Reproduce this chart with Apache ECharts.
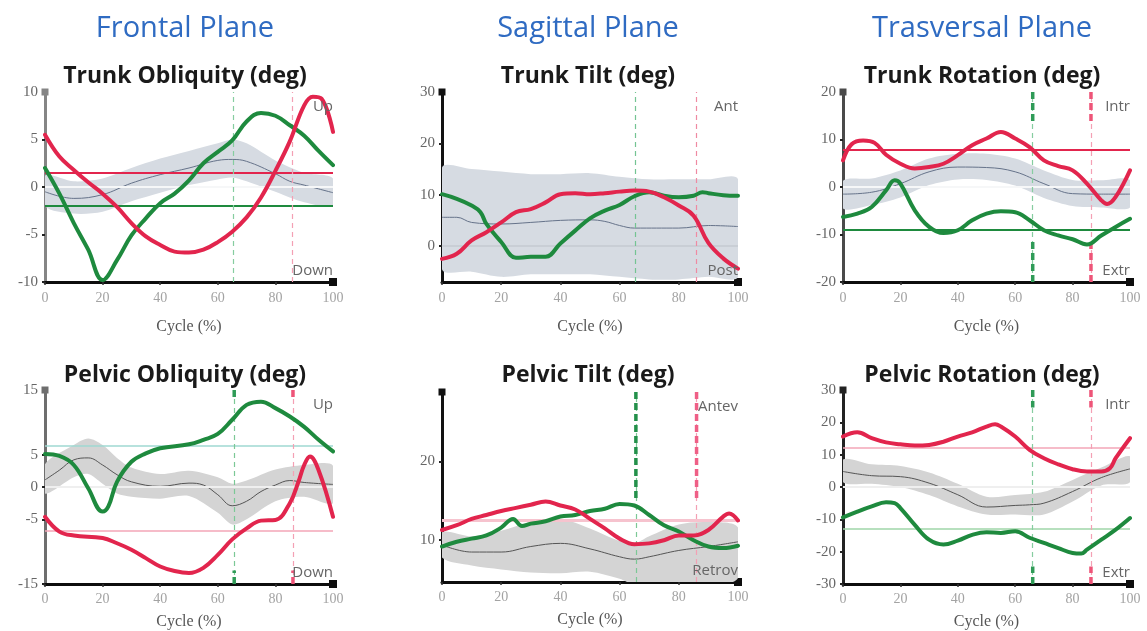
<!DOCTYPE html>
<html>
<head>
<meta charset="utf-8">
<script src="https://cdn.jsdelivr.net/npm/echarts@6/dist/echarts.min.js"></script>
<style>
  html, body { margin: 0; padding: 0; background: #fff; }
  #chart { width: 1147px; height: 631px; }
</style>
</head>
<body>
<div id="chart"></div>
<script>
// ---- Kinematics over the gait cycle (deg vs. % cycle) ----
// red = right side, green = left side, grey = normative mean with its band

const planeTitles = ['Frontal Plane', 'Sagittal Plane', 'Trasversal Plane'];
const panelTitles = ['Trunk Obliquity (deg)', 'Trunk Tilt (deg)', 'Trunk Rotation (deg)',
                     'Pelvic Obliquity (deg)', 'Pelvic Tilt (deg)', 'Pelvic Rotation (deg)'];
const directionTop = ['Up', 'Ant', 'Intr', 'Up', 'Antev', 'Intr'];
const directionBottom = ['Down', 'Post', 'Extr', 'Down', 'Retrov', 'Extr'];

// Trunk obliquity
const trunkObliquityRight = [[0,5.5],[5,3.2],[10,1.8],[15,0.5],[20,-0.7],[25,-2.1],[30,-3.8],[35,-5.2],[40,-6.1],[45,-6.8],[50,-6.9],[55,-6.6],[60,-5.8],[65,-4.7],[70,-3.2],[75,-1.1],[80,1.7],[85,4.8],[90,8.6],[93,9.5],[96,9.3],[100,5.8]];
const trunkObliquityLeft = [[0,2.0],[5,-0.7],[10,-3.8],[15,-6.6],[20,-9.8],[25,-7.7],[30,-5.1],[35,-3.3],[40,-1.7],[45,-0.7],[50,0.7],[55,2.5],[60,3.7],[65,4.9],[70,6.9],[75,7.8],[80,7.5],[85,6.5],[90,5.4],[95,3.8],[100,2.3]];
const trunkObliquityMean = [[0,-0.5],[10,-1.2],[20,-0.8],[30,0.4],[40,1.3],[50,2.0],[60,2.8],[65,2.9],[70,2.7],[80,1.4],[85,0.6],[90,0.2],[100,-0.6]];
const trunkObliquityUpper = [[0,1.2],[10,0.6],[20,0.9],[30,2.0],[40,3.0],[50,3.8],[60,4.6],[65,5.0],[70,4.6],[80,2.8],[90,1.5],[100,0.9]];
const trunkObliquityLower = [[0,-2.0],[10,-2.8],[20,-2.6],[30,-1.5],[40,-0.6],[50,0.2],[60,0.8],[65,1.0],[70,0.6],[80,-0.5],[90,-1.6],[100,-1.9]];

// Trunk tilt
const trunkTiltRight = [[0,-2.5],[5,-1.5],[10,1.1],[15,2.7],[20,4.6],[25,6.6],[30,7.2],[35,8.5],[40,10.1],[45,10.3],[50,10.1],[55,10.3],[60,10.6],[65,10.8],[70,10.6],[75,9.5],[80,7.9],[85,5.9],[90,0.6],[95,-2.4],[100,-4.4]];
const trunkTiltLeft = [[0,10.1],[5,9.2],[10,7.9],[13,6.6],[15,4.3],[20,0.8],[25,-2.3],[30,-2.1],[35,-2.1],[40,0.5],[45,3.0],[50,5.4],[55,6.9],[60,8.0],[65,9.7],[70,10.5],[75,9.8],[80,9.5],[85,9.8],[88,10.5],[90,10.3],[95,9.9],[100,9.8]];
const trunkTiltMean = [[0,5.6],[5,5.6],[10,4.6],[20,4.3],[30,4.6],[40,5.0],[50,5.1],[55,4.8],[60,4.0],[65,3.5],[80,3.5],[90,4.0],[100,3.8]];
const trunkTiltUpper = [[0,15.3],[10,15.0],[20,14.5],[30,14.0],[40,14.0],[50,14.2],[60,13.5],[70,13.0],[80,13.0],[90,13.0],[100,13.0]];
const trunkTiltLower = [[0,-4.5],[10,-5.0],[20,-6.0],[30,-5.5],[40,-5.5],[50,-5.5],[60,-6.0],[70,-6.5],[80,-6.5],[90,-6.0],[100,-6.0]];

// Trunk rotation
const trunkRotationRight = [[0,5.6],[3,9.0],[7,9.8],[11,9.3],[15,6.8],[20,4.9],[25,3.9],[30,4.2],[35,4.9],[40,6.7],[45,8.8],[50,10.2],[55,11.6],[60,10.2],[65,8.4],[70,5.6],[75,4.4],[80,3.5],[85,0.7],[90,-2.8],[92,-3.6],[95,-2.1],[100,3.5]];
const trunkRotationLeft = [[0,-6.3],[5,-5.6],[10,-4.2],[15,-0.7],[18,1.4],[20,0.7],[25,-4.9],[30,-8.4],[35,-9.7],[40,-9.1],[45,-7.0],[50,-5.6],[55,-5.1],[60,-5.3],[65,-7.0],[70,-9.1],[75,-10.2],[80,-11.0],[85,-12.1],[90,-10.2],[95,-8.4],[100,-6.7]];
const trunkRotationMean = [[0,-1.5],[10,-1.1],[20,0.7],[30,3.2],[40,4.2],[50,4.1],[60,3.2],[70,0.7],[80,-1.4],[90,-1.5],[100,-1.5]];
const trunkRotationUpper = [[0,1.3],[10,1.8],[20,3.5],[30,6.0],[40,7.0],[50,7.0],[60,6.0],[70,3.5],[80,1.5],[90,1.4],[100,1.5]];
const trunkRotationLower = [[0,-4.5],[10,-3.8],[20,-2.2],[30,0.4],[40,1.6],[50,1.5],[60,0.3],[70,-2.3],[80,-4.0],[90,-4.3],[100,-4.3]];

// Pelvic obliquity
const pelvicObliquityRight = [[0,-4.6],[5,-6.9],[10,-7.5],[20,-7.9],[25,-8.7],[30,-9.7],[35,-11.0],[40,-12.3],[45,-13.0],[50,-13.3],[55,-12.5],[60,-10.5],[65,-8.1],[70,-6.4],[75,-5.2],[80,-5.1],[85,-2.5],[88,0.8],[90,3.4],[92,4.7],[95,2.6],[100,-4.6]];
const pelvicObliquityLeft = [[0,5.1],[5,4.8],[10,3.4],[15,-0.2],[20,-3.8],[22,-3.0],[25,0.8],[30,3.9],[35,5.2],[40,6.0],[50,6.6],[55,7.3],[60,8.2],[65,10.4],[70,12.7],[75,13.2],[80,12.2],[85,10.9],[90,9.3],[95,7.3],[100,5.5]];
const pelvicObliquityMean = [[0,1.1],[5,2.6],[10,4.2],[15,4.5],[20,3.4],[25,1.9],[30,0.8],[40,0.1],[50,0.6],[55,0.3],[60,-1.2],[65,-2.9],[70,-2.2],[75,-0.7],[80,0.3],[85,1.0],[90,0.7],[100,0.4]];
const pelvicObliquityUpper = [[0,3.5],[10,6.5],[15,7.5],[20,6.5],[25,4.5],[30,3.0],[40,2.0],[50,2.5],[60,1.5],[65,0.5],[70,1.0],[80,2.7],[90,3.4],[100,3.3]];
const pelvicObliquityLower = [[0,-1.0],[10,1.5],[15,2.0],[20,0.5],[25,-1.0],[30,-1.5],[40,-1.8],[50,-1.4],[60,-4.0],[65,-5.8],[70,-5.0],[80,-2.2],[90,-1.5],[100,-2.5]];

// Pelvic tilt
const pelvicTiltRight = [[0,11.3],[5,11.9],[10,12.7],[15,13.2],[20,13.7],[25,14.1],[30,14.5],[35,14.9],[40,14.4],[45,13.9],[50,12.7],[55,11.5],[60,10.2],[65,9.5],[70,9.6],[75,10.0],[80,10.6],[85,10.6],[90,11.3],[95,13.0],[97,13.4],[100,12.5]];
const pelvicTiltLeft = [[0,9.2],[5,9.8],[10,10.2],[15,10.6],[20,11.6],[24,12.7],[27,11.8],[30,12.1],[35,12.4],[40,13.0],[45,13.2],[50,13.7],[55,14.0],[60,14.6],[65,14.4],[70,13.2],[75,11.9],[80,11.1],[85,10.0],[90,9.2],[95,9.0],[100,9.3]];
const pelvicTiltMean = [[0,9.4],[10,8.5],[20,8.5],[30,9.2],[40,9.6],[50,8.9],[60,7.9],[65,7.6],[70,7.9],[80,8.7],[90,9.2],[100,9.8]];
const pelvicTiltUpper = [[0,11.0],[10,10.5],[20,11.2],[30,12.3],[40,12.7],[50,11.5],[60,9.9],[65,9.6],[70,10.5],[80,12.0],[90,12.3],[100,11.6]];
const pelvicTiltLower = [[0,7.8],[10,6.8],[20,6.3],[30,5.9],[40,5.8],[50,6.0],[60,5.1],[65,4.3],[70,4.0],[80,4.0],[90,4.2],[100,5.2]];

// Pelvic rotation
const pelvicRotationRight = [[0,15.6],[5,16.9],[10,15.1],[15,13.8],[20,13.2],[25,12.8],[30,13.0],[35,14.0],[40,15.6],[45,16.9],[50,18.7],[53,19.4],[55,18.7],[60,15.6],[65,11.5],[70,8.9],[75,7.0],[80,5.5],[85,4.8],[90,4.8],[93,5.8],[95,8.9],[100,15.1]];
const pelvicRotationLeft = [[0,-9.4],[5,-7.6],[10,-6.0],[15,-4.7],[18,-5.0],[20,-6.5],[25,-11.7],[30,-16.3],[35,-17.8],[40,-16.6],[45,-14.8],[50,-14.0],[55,-14.2],[60,-13.7],[65,-15.7],[70,-17.3],[75,-18.9],[80,-20.4],[83,-20.6],[85,-19.4],[90,-16.3],[95,-13.2],[100,-9.6]];
const pelvicRotationMean = [[0,4.8],[10,3.5],[20,3.2],[30,1.2],[40,-2.4],[50,-6.2],[60,-5.7],[65,-5.5],[70,-5.0],[80,-1.4],[90,2.9],[100,5.6]];
const pelvicRotationUpper = [[0,8.5],[10,7.0],[20,6.5],[30,4.5],[40,1.0],[50,-3.0],[60,-2.5],[70,-1.5],[80,2.2],[90,6.0],[100,9.5]];
const pelvicRotationLower = [[0,1.5],[10,1.0],[20,0.0],[30,-2.5],[40,-6.0],[50,-8.5],[60,-8.5],[70,-8.5],[80,-4.5],[90,0.5],[100,1.5]];

// Reference levels (horizontal) and toe-off events (vertical), per panel
const referenceRight = [1.5, null, 7.9, -6.8, 12.5, 12.2];
const referenceLeft  = [-2.0, null, -9.1, 6.4, null, -12.9];
const toeOffLeft  = [65.3, 65.2, 66.1, 65.7, 65.5, 66.1];
const toeOffRight = [86.0, 86.0, 86.4, 86.1, 86.0, 86.4];

// Y-axis extents and labelled values
const yMin = [-10, -7, -20, -15, 4.7, -30];
const yMax = [10, 30, 20, 15, 28.8, 30];
const yLabels = [[-10,-5,0,5,10], [0,10,20,30], [-20,-10,0,10,20], [-15,-5,0,5,15], [10,20], [-30,-20,-10,0,10,20,30]];

const rightCurves = [trunkObliquityRight, trunkTiltRight, trunkRotationRight, pelvicObliquityRight, pelvicTiltRight, pelvicRotationRight];
const leftCurves  = [trunkObliquityLeft, trunkTiltLeft, trunkRotationLeft, pelvicObliquityLeft, pelvicTiltLeft, pelvicRotationLeft];
const normMeans   = [trunkObliquityMean, trunkTiltMean, trunkRotationMean, pelvicObliquityMean, pelvicTiltMean, pelvicRotationMean];
const normUppers  = [trunkObliquityUpper, trunkTiltUpper, trunkRotationUpper, pelvicObliquityUpper, pelvicTiltUpper, pelvicRotationUpper];
const normLowers  = [trunkObliquityLower, trunkTiltLower, trunkRotationLower, pelvicObliquityLower, pelvicTiltLower, pelvicRotationLower];

// ---- Layout & styling ----
const RED = '#e2254d', GREEN = '#1e8a3e';
const grids = [
  { left: 45,  top: 92,  width: 288, height: 190 },
  { left: 442, top: 92,  width: 296, height: 190 },
  { left: 843, top: 92,  width: 287, height: 190 },
  { left: 45,  top: 390, width: 288, height: 194 },
  { left: 442, top: 392, width: 296, height: 190 },
  { left: 843, top: 390, width: 287, height: 194 }
];
const panelStyle = [
  { band: '#d6dbe2', mean: '#66738a', zero: '#f6f7f8', zeroW: 2, yAxis: '#858585',
    refR: { color: RED, width: 2 }, refL: { color: GREEN, width: 2 },
    evL: '#86cda0', evR: '#f4a0b4', thick: null },
  { band: '#d6dbe2', mean: '#66738a', zero: '#c5cad1', zeroW: 1.5, yAxis: '#111',
    refR: null, refL: null, evL: '#74c493', evR: '#ef8aa2', thick: null },
  { band: '#d6dbe2', mean: '#66738a', zero: '#f6f7f8', zeroW: 2, yAxis: '#4a4a4a',
    refR: { color: RED, width: 2 }, refL: { color: GREEN, width: 2 },
    evL: '#86cda0', evR: '#f4a0b4', thick: { l: '#2f9b57', r: '#ee5478', top: 0.17, bottom: 0.22 } },
  { band: '#d4d4d4', mean: '#555', zero: '#efefef', zeroW: 2, yAxis: '#6e6e6e',
    refR: { color: '#f3a6b7', width: 1.5 }, refL: { color: '#9fd9d2', width: 1.5 },
    evL: '#7cc896', evR: '#f4a0b4', thick: { l: '#2f9b57', r: '#ee5478', top: 0.05, bottom: 0.07 } },
  { band: '#d4d4d4', mean: '#555', zero: null, zeroW: 0, yAxis: '#111',
    refR: { color: '#f6c3ce', width: 3 }, refL: null,
    evL: '#7cc896', evR: '#f4a0b4', thick: { l: '#23904a', r: '#ef5f86', top: 0.56, bottom: 0 } },
  { band: '#d4d4d4', mean: '#555', zero: '#efefef', zeroW: 2, yAxis: '#222',
    refR: { color: '#f3a6b7', width: 1.5 }, refL: { color: '#9fd6a8', width: 1.5 },
    evL: '#86cda0', evR: '#f4a0b4', thick: { l: '#2f9b57', r: '#ee5478', top: 0.09, bottom: 0.09 } }
];

const SERIF = '"Liberation Serif", "DejaVu Serif", serif';
const SANS = '"Open Sans", "Noto Sans", sans-serif';

const option = {
  animation: false,
  backgroundColor: '#ffffff',
  title: [],
  grid: grids.map(g => Object.assign({ containLabel: false }, g)),
  xAxis: [],
  yAxis: [],
  series: [],
  graphic: []
};

// Plane headers
const planeCenters = [185, 588, 982];
planeTitles.forEach((t, i) => option.title.push({
  text: t, left: planeCenters[i], top: 14, textAlign: 'center', padding: 0,
  textStyle: { color: '#2f6bc2', fontSize: 29, fontWeight: 'normal', fontFamily: SANS }
}));

panelTitles.forEach((t, i) => {
  const g = grids[i], st = panelStyle[i];
  const bottomRow = i >= 3;
  option.title.push({
    text: t, left: planeCenters[i % 3], top: bottomRow ? 364 : 65, textAlign: 'center', padding: 0,
    textStyle: { color: '#1a1a1a', fontSize: 23, fontWeight: 'bold', fontFamily: SANS }
  });

  option.xAxis.push({
    type: 'value', gridIndex: i, min: 0, max: 100, interval: 20,
    name: 'Cycle (%)', nameLocation: 'middle', nameGap: bottomRow ? 30 : 37,
    nameTextStyle: { fontFamily: SERIF, fontSize: 16, color: '#555' },
    axisLine: { show: true, onZero: false, symbol: ['none', 'rect'], symbolSize: [8, 8],
                lineStyle: { color: '#0d0d0d', width: 3 } },
    axisTick: { show: true, length: 3, lineStyle: { color: '#333', width: 1.5 } },
    axisLabel: { fontFamily: SERIF, fontSize: 14, color: '#a3a3a3', margin: bottomRow ? 8 : 9 },
    splitLine: { show: false }
  });

  option.yAxis.push({
    type: 'value', gridIndex: i, min: yMin[i], max: yMax[i],
    axisLine: { show: true, onZero: false, symbol: ['none', 'rect'], symbolSize: [7, 7],
                lineStyle: { color: st.yAxis, width: 3 } },
    axisTick: { show: true, length: 3, customValues: yLabels[i], lineStyle: { color: '#222', width: 2 } },
    axisLabel: { fontFamily: SERIF, fontSize: 15, color: '#666', margin: 7, customValues: yLabels[i] },
    splitLine: { show: false }
  });

  // normative band
  const upper = normUppers[i], lower = normLowers[i], bandColor = st.band;
  option.series.push({
    type: 'custom', xAxisIndex: i, yAxisIndex: i, clip: true, silent: true, z: 1,
    data: [0],
    renderItem: (params, api) => {
      const pts = upper.map(p => api.coord(p)).concat(lower.slice().reverse().map(p => api.coord(p)));
      return { type: 'polygon', shape: { points: pts, smooth: 0.3 }, style: { fill: bandColor } };
    }
  });

  // zero reference
  if (st.zero) {
    option.series.push({
      type: 'line', xAxisIndex: i, yAxisIndex: i, data: [], z: 2, silent: true,
      markLine: { symbol: 'none', silent: true, label: { show: false },
                  lineStyle: { color: st.zero, width: st.zeroW, type: 'solid' },
                  data: [{ yAxis: 0 }] }
    });
  }

  // normative mean
  option.series.push({
    type: 'line', xAxisIndex: i, yAxisIndex: i, data: normMeans[i], smooth: 0.4,
    showSymbol: false, silent: true, z: 3, lineStyle: { color: st.mean, width: 1 }
  });

  // horizontal reference levels
  const refs = [];
  if (referenceRight[i] != null && st.refR) refs.push({ yAxis: referenceRight[i], lineStyle: { color: st.refR.color, width: st.refR.width, type: 'solid' } });
  if (referenceLeft[i] != null && st.refL) refs.push({ yAxis: referenceLeft[i], lineStyle: { color: st.refL.color, width: st.refL.width, type: 'solid' } });
  if (refs.length) {
    option.series.push({
      type: 'line', xAxisIndex: i, yAxisIndex: i, data: [], z: 4, silent: true,
      markLine: { symbol: 'none', silent: true, label: { show: false }, data: refs }
    });
  }

  // toe-off events (thin dashed, full height)
  option.series.push({
    type: 'line', xAxisIndex: i, yAxisIndex: i, data: [], z: 4, silent: true,
    markLine: { symbol: 'none', silent: true, label: { show: false }, data: [
      { xAxis: toeOffLeft[i], lineStyle: { color: st.evL, width: 1.2, type: [5, 4] } },
      { xAxis: toeOffRight[i], lineStyle: { color: st.evR, width: 1.2, type: [5, 4] } }
    ] }
  });

  // heavier dashed stubs at the ends of the event lines
  if (st.thick) {
    const span = yMax[i] - yMin[i];
    const segs = [];
    if (st.thick.top > 0) segs.push([yMax[i], yMax[i] - span * st.thick.top]);
    if (st.thick.bottom > 0) segs.push([yMin[i], yMin[i] + span * st.thick.bottom]);
    segs.forEach(([a, b]) => {
      [[toeOffLeft[i], st.thick.l], [toeOffRight[i], st.thick.r]].forEach(([x, c]) => {
        option.series.push({
          type: 'line', xAxisIndex: i, yAxisIndex: i, data: [[x, a], [x, b]], z: 5, silent: true,
          showSymbol: false, lineStyle: { color: c, width: 3.5, type: [7, 4] }
        });
      });
    });
  }

  // subject curves
  option.series.push({
    type: 'line', xAxisIndex: i, yAxisIndex: i, data: leftCurves[i], smooth: 0.4,
    showSymbol: false, z: 6, lineStyle: { color: GREEN, width: 4, cap: 'round', join: 'round' }
  });
  option.series.push({
    type: 'line', xAxisIndex: i, yAxisIndex: i, data: rightCurves[i], smooth: 0.4,
    showSymbol: false, z: 7, lineStyle: { color: RED, width: 4, cap: 'round', join: 'round' }
  });

  // direction captions inside the plot, right-aligned
  const right = g.left + g.width;
  option.graphic.push({
    type: 'text', x: right, y: g.top + 15, z: 10, silent: true,
    style: { text: directionTop[i], align: 'right', verticalAlign: 'middle', fill: '#666', font: '15px ' + SANS }
  });
  option.graphic.push({
    type: 'text', x: right, y: g.top + g.height - 11, z: 10, silent: true,
    style: { text: directionBottom[i], align: 'right', verticalAlign: 'middle', fill: '#666', font: '15px ' + SANS }
  });
});

const chart = echarts.init(document.getElementById('chart'), null, { renderer: 'canvas' });
chart.setOption(option);
</script>
</body>
</html>
